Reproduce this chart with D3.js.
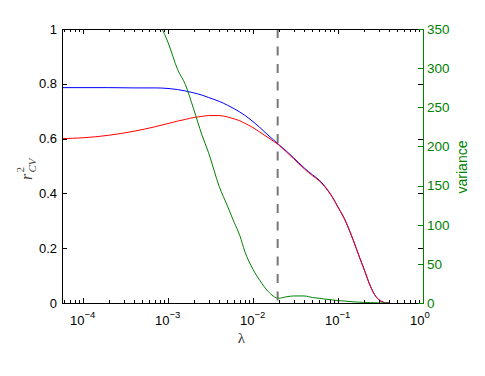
<!DOCTYPE html>
<html><head><meta charset="utf-8">
<script src="https://cdn.jsdelivr.net/npm/d3@7"></script>
<style>body{margin:0;background:#fff}svg{display:block}</style>
</head><body><svg id="c" width="485" height="376"></svg>
<script>
// ---- data ----
const lambda = [5.66e-5, 1e-4, 2e-4, 4e-4, 7e-4, 1e-3, 1.3e-3, 1.6e-3, 2e-3, 2.5e-3, 3e-3, 4e-3, 5e-3, 6e-3, 7e-3, 8e-3, 1e-2, 1.2e-2, 1.5e-2, 2e-2,
  2.5e-2, 3e-2, 4e-2, 5e-2, 6e-2, 7e-2, 8.5e-2, 0.1, 0.12, 0.15, 0.18, 0.2, 0.24, 0.27, 0.3, 0.33, 0.36, 0.4];
const r2Blue = [0.786, 0.786, 0.786, 0.785, 0.785, 0.783, 0.779, 0.774, 0.767, 0.759, 0.750, 0.736, 0.722, 0.709, 0.697, 0.685, 0.662, 0.641, 0.613, 0.579,
  0.553, 0.530, 0.493, 0.468, 0.449, 0.426, 0.389, 0.350, 0.305, 0.232, 0.165, 0.128, 0.062, 0.030, 0.013, 0.005, 0.001, 0];
const r2Red = [0.600, 0.603, 0.612, 0.627, 0.643, 0.655, 0.664, 0.670, 0.677, 0.681, 0.684, 0.684, 0.679, 0.672, 0.665, 0.656, 0.640, 0.624, 0.604, 0.577,
  0.550, 0.527, 0.490, 0.465, 0.446, 0.424, 0.388, 0.350, 0.305, 0.232, 0.165, 0.128, 0.062, 0.030, 0.013, 0.005, 0.001, 0];
const variance = [null, null, null, 424, 369, 333, 298, 279, 248, 215, 192, 149, 124, 103, 86, 66, 43, 29, 15, 6,
  8, 9, 9, 7, 6, 5, 4, 3, 2.5, 1.5, 1, 0.8, 0.5, 0.3, 0.2, 0.1, 0.05, 0];
const lambdaCut = 0.0195;
const xDomain = [5.66e-5, 1];
const xTicks = [1e-4, 1e-3, 1e-2, 1e-1, 1];
const xTickExp = ["\u22124", "\u22123", "\u22122", "\u22121", "0"];
const yTicksLeft = [0, 0.2, 0.4, 0.6, 0.8, 1];
const yTickLabelsLeft = ["0", "0.2", "0.4", "0.6", "0.8", "1"];
const yTicksRight = [0, 50, 100, 150, 200, 250, 300, 350];

// ---- layout ----
const L = 62, R = 423, T = 29, B = 303;
const GREEN = "#008000";
const svg = d3.select("#c");
const x = d3.scaleLog().domain(xDomain).range([L, R]);
const y = d3.scaleLinear().domain([0, 1]).range([B, T]);
const y2 = d3.scaleLinear().domain([0, 350]).range([B, T]);

svg.append("defs").append("clipPath").attr("id", "clip")
  .append("rect").attr("x", L).attr("y", T).attr("width", R - L).attr("height", B - T);

const plot = svg.append("g").attr("clip-path", "url(#clip)");
const line = (vals, ys) => d3.line().defined((d, i) => vals[i] != null)
  .x((d, i) => x(lambda[i])).y((d, i) => ys(vals[i])).curve(d3.curveMonotoneX)(lambda);

plot.append("path").attr("d", line(r2Blue, y)).attr("fill", "none").attr("stroke", "#0000ff").attr("stroke-width", 1);
plot.append("path").attr("d", line(r2Red, y)).attr("fill", "none").attr("stroke", "#ff0000").attr("stroke-width", 1);
plot.append("path").attr("d", line(variance, y2)).attr("fill", "none").attr("stroke", GREEN).attr("stroke-width", 1);
plot.append("line").attr("x1", x(lambdaCut)).attr("x2", x(lambdaCut)).attr("y1", T).attr("y2", B)
  .attr("stroke", "#777").attr("stroke-width", 2).attr("stroke-dasharray", "9,8.5");

// ---- axes frame ----
const ax = svg.append("g").attr("shape-rendering", "crispEdges");
ax.append("line").attr("x1", L + 0.5).attr("x2", L + 0.5).attr("y1", T).attr("y2", B + 0.5).attr("stroke", "#000");
ax.append("line").attr("x1", L).attr("x2", R).attr("y1", B + 0.5).attr("y2", B + 0.5).attr("stroke", "#000");
ax.append("line").attr("x1", L).attr("x2", R).attr("y1", T + 0.5).attr("y2", T + 0.5).attr("stroke", "#000");

// x ticks (major + minor), bottom and top, inward
const minor = [];
for (let d = -5; d < 0; d++) for (let k = 2; k <= 9; k++) {
  const v = k * Math.pow(10, d);
  if (v >= xDomain[0] && v <= xDomain[1]) minor.push(v);
}
function xt(v, len) {
  const px = Math.round(x(v)) + 0.5;
  ax.append("line").attr("x1", px).attr("x2", px).attr("y1", B).attr("y2", B - len).attr("stroke", "#000");
  ax.append("line").attr("x1", px).attr("x2", px).attr("y1", T).attr("y2", T + len).attr("stroke", "#000");
}
minor.forEach(v => xt(v, 3));
xTicks.forEach(v => xt(v, 5));

// left y ticks (mirrored on right)
yTicksLeft.forEach(v => {
  const py = Math.round(y(v)) + 0.5;
  ax.append("line").attr("x1", L).attr("x2", L + 5).attr("y1", py).attr("y2", py).attr("stroke", "#000");
  ax.append("line").attr("x1", R - 5).attr("x2", R).attr("y1", py).attr("y2", py).attr("stroke", "#000");
});
// right axis
ax.append("line").attr("x1", R + 0.5).attr("x2", R + 0.5).attr("y1", T).attr("y2", B + 1).attr("stroke", GREEN);
yTicksRight.forEach(v => {
  const py = Math.round(y2(v)) + 0.5;
  ax.append("line").attr("x1", R - 5).attr("x2", R).attr("y1", py).attr("y2", py).attr("stroke", GREEN);
});

// ---- labels ----
const font = "'Liberation Sans', Arial, Helvetica, sans-serif";
const tl = svg.append("g").attr("font-family", font);
yTicksLeft.forEach((v, i) => {
  tl.append("text").attr("x", L - 5).attr("y", y(v)).attr("dy", "0.36em")
    .attr("text-anchor", "end").attr("font-size", 13).attr("fill", "#000").text(yTickLabelsLeft[i]);
});
yTicksRight.forEach(v => {
  tl.append("text").attr("x", R + 4).attr("y", y2(v)).attr("dy", "0.36em")
    .attr("text-anchor", "start").attr("font-size", 13.5).attr("fill", GREEN).text(v);
});
xTicks.forEach((v, i) => {
  const t = tl.append("text").attr("x", x(v) - 13).attr("y", 325).attr("font-size", 13).attr("fill", "#000");
  t.append("tspan").text("10");
  t.append("tspan").attr("dy", -7).attr("font-size", 9.5).text(xTickExp[i]);
});

// x label
svg.append("text").attr("x", (L + R) / 2 - 1).attr("y", 343).attr("text-anchor", "middle")
  .attr("font-family", "'Liberation Serif', 'DejaVu Serif', serif").attr("font-size", 15).attr("fill", "#333").text("\u03bb");

// y label r^2_CV
const yl = svg.append("g").attr("transform", "translate(32,180) rotate(-90)")
  .attr("font-family", "'Liberation Serif', 'DejaVu Serif', serif").attr("fill", "#444").attr("font-style", "italic");
yl.append("text").attr("x", 0).attr("y", 0).attr("font-size", 16).text("r");
yl.append("text").attr("x", 7.5).attr("y", -8).attr("font-size", 11).attr("font-style", "normal").text("2");
yl.append("text").attr("x", 7.5).attr("y", 3.5).attr("font-size", 11).text("CV");

// right label
svg.append("text").attr("transform", "translate(467,167) rotate(-90)").attr("text-anchor", "middle")
  .attr("font-family", font).attr("font-size", 14).attr("fill", GREEN).text("variance");
</script></body></html>
